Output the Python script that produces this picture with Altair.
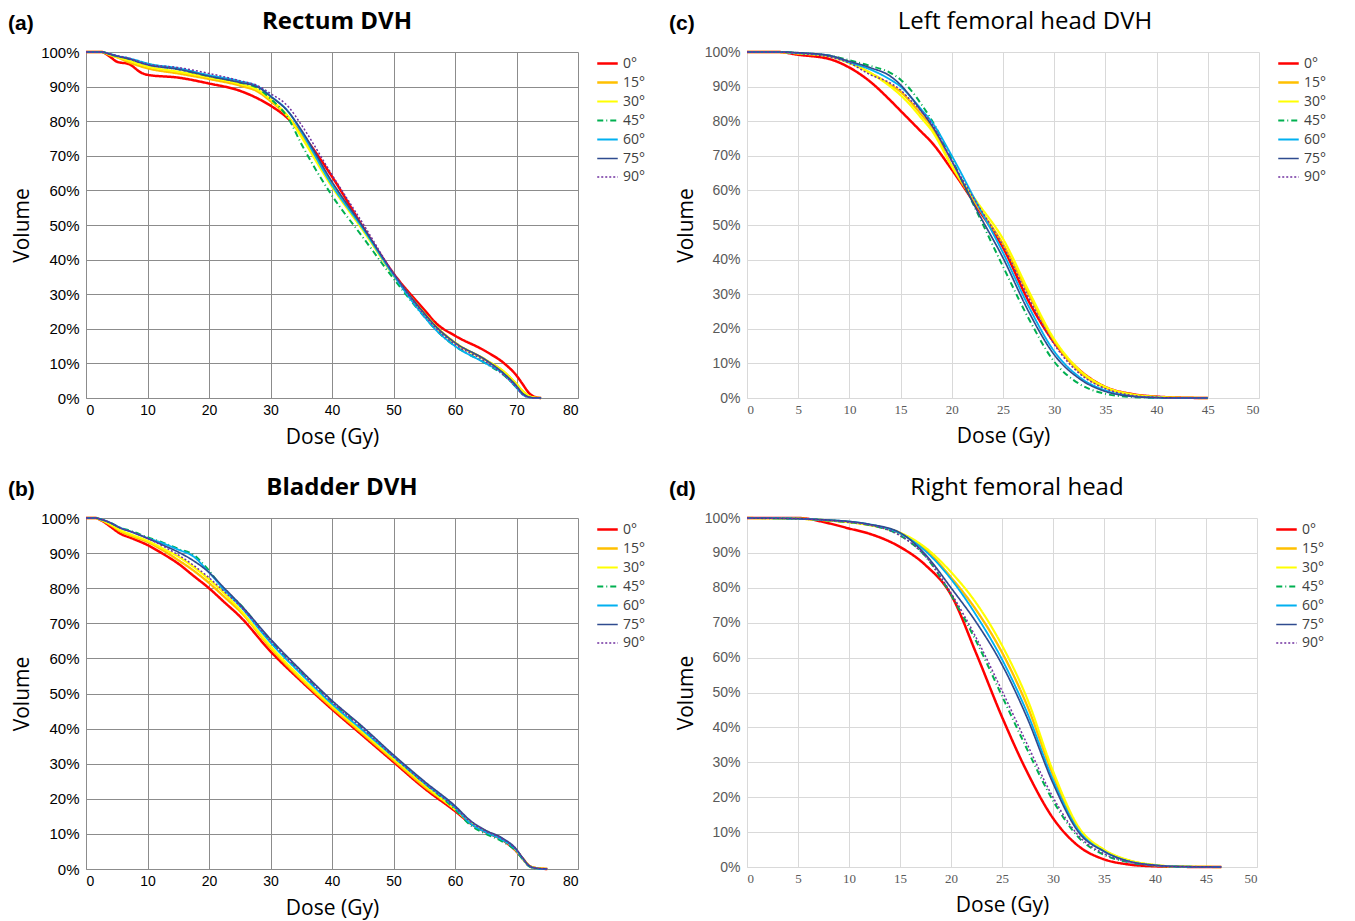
import altair as alt
import pandas as pd

ANGLES = ["0°", "15°", "30°", "45°", "60°", "75°", "90°"]
COLORS = ["#FF0000", "#FFC000", "#FFFF00", "#00B050", "#00B0F0", "#2F4B8F", "#7030A0"]
DASHES = [[1, 0], [1, 0], [1, 0], [6, 3, 1, 3], [1, 0], [1, 0], [2, 2]]
WIDTHS = [2.5, 1.5, 1.5, 1.3, 1.5, 1.8, 1.2]

# ---- (a) Rectum DVH ----
DOSE_A = [0, 2.5, 4, 5, 7, 9, 10, 15, 20, 25, 28, 30, 33, 35, 40, 45, 50, 55, 57, 60, 65, 68, 70, 71, 72, 73, 74]
A_0 = [100, 100, 98.5, 97.2, 96.5, 94, 93.4, 92.6, 90.9, 88.8, 86.5, 84.5, 80.5, 76.5, 64, 49.5, 36, 25.5, 21.5, 18, 13.5, 10, 6.5, 4, 1.5, 0.3, 0]
A_15 = [100, 100, 99, 98.5, 97, 95.8, 95.3, 93.8, 92.2, 90.3, 88.5, 85.8, 81, 76, 62, 49, 35.5, 24.5, 20.5, 16, 11, 7.5, 4, 2, 0.6, 0.1, 0]
A_30 = [100, 100, 99.2, 98.6, 97.5, 96.3, 95.8, 94.3, 92.7, 90.8, 89, 86.3, 81, 75.5, 61, 48.5, 35.5, 24.5, 20.5, 16, 11, 7.5, 4, 2, 0.6, 0.1, 0]
A_45 = [100, 100, 99.3, 98.8, 98, 97, 96.5, 95, 93, 91.2, 89.5, 86.5, 80.5, 73.5, 58.5, 46.5, 34.5, 23.5, 19.5, 15, 10, 6.5, 3, 1.2, 0.3, 0, 0]
A_60 = [100, 100, 99.4, 98.9, 98.2, 97.2, 96.7, 95.3, 93.3, 91.6, 90, 87.3, 82.5, 77, 61.5, 49, 35.5, 23.5, 19.5, 15, 10, 6.8, 3, 1, 0.2, 0, 0]
A_75 = [100, 100, 99.3, 98.8, 98, 96.8, 96.3, 95, 93, 91.2, 89.8, 87.2, 82.5, 77.5, 62.5, 49.5, 36, 24.5, 20.5, 16, 11, 7, 3.5, 1.3, 0.3, 0, 0]
A_90 = [100, 100, 99.4, 99, 98.2, 97, 96.5, 95.5, 93.8, 91.7, 90.2, 88, 84, 79, 64.5, 50.5, 36, 24, 20, 15.5, 10.5, 6.5, 3, 1, 0.2, 0, 0]

# ---- (b) Bladder DVH ----
DOSE_B = [0, 1.5, 2.5, 4, 5.5, 7.5, 10, 12.5, 15, 17.5, 20, 22.5, 25, 30, 35, 40, 45, 50, 55, 60, 62.5, 65, 67.5, 70, 71, 72, 73, 74, 75]
B_0 = [100, 100, 99.3, 97.5, 95.6, 94.2, 92.3, 89.8, 87, 83.5, 80, 76, 72, 62, 53.5, 45.5, 38, 30.5, 23, 16.5, 13, 10.5, 8.5, 5, 3, 1, 0.3, 0.1, 0]
B_15 = [100, 100, 99.4, 98, 96.3, 94.8, 93.2, 90.8, 88, 85, 81.5, 77.5, 73.5, 63, 54, 46, 38.5, 31, 23.5, 17, 13.3, 10.8, 8.7, 5.2, 3, 1, 0.3, 0.1, 0]
B_30 = [100, 100, 99.5, 98.2, 96.6, 95.2, 93.5, 91.3, 89, 86, 82.5, 78.5, 74, 63.5, 54.5, 46.5, 39, 31.5, 24, 17, 13.3, 10.8, 8.7, 5.2, 3, 1, 0.3, 0.1, 0]
B_45 = [100, 100, 99.6, 98.6, 97.3, 96.2, 94.5, 93, 91.2, 89.5, 85, 79.5, 75.5, 65, 56, 47.5, 40, 32, 24.5, 17, 12.5, 10, 8, 5, 2.8, 0.8, 0.2, 0, 0]
B_60 = [100, 100, 99.6, 98.6, 97.3, 96, 94.3, 92.8, 91, 89, 84.5, 79.5, 75, 64.5, 55.5, 47, 39.5, 32, 24.5, 17.5, 13, 10.5, 8.5, 5.3, 3, 0.9, 0.2, 0, 0]
B_75 = [100, 100, 99.6, 98.6, 97.2, 96, 94.2, 92.3, 90.3, 87.8, 84.5, 80, 75.5, 65.5, 56.5, 48, 40.5, 32.5, 25, 18, 13.8, 11, 9, 5.6, 3.2, 1, 0.3, 0.1, 0]
B_90 = [100, 100, 99.6, 98.6, 97.2, 96, 94.2, 92, 89.5, 86.5, 83, 79, 75, 65, 56, 47.5, 40, 32, 24.5, 17.5, 13.5, 10.8, 8.8, 5.4, 3.1, 1, 0.3, 0.1, 0]

# ---- (c) Left femoral head DVH ----
DOSE_C = [0, 3, 5, 8, 10, 12, 14, 15, 16, 17, 18, 20, 22.5, 25, 27.5, 30, 32.5, 35, 37.5, 40, 42.5, 45]
C_0 = [100, 100, 99.2, 98, 95.5, 91.5, 86, 83, 80, 77, 74, 66, 55, 43.5, 28, 16, 8, 3.2, 1.2, 0.4, 0.1, 0]
C_15 = [100, 100, 99.6, 98.8, 97, 94, 90.5, 88.5, 85.5, 82, 78.5, 67, 55.5, 44.5, 30, 16.5, 7.5, 3, 1, 0.3, 0.05, 0]
C_30 = [100, 100, 99.6, 98.8, 96.8, 94, 90, 87.5, 84.5, 81, 77.5, 67, 56.5, 46, 31, 17, 8, 3.2, 1.1, 0.3, 0.05, 0]
C_45 = [100, 100, 99.7, 99, 97.6, 96, 94, 92, 89, 85, 80.5, 69, 53.5, 38, 23, 10.5, 4, 1.2, 0.3, 0.05, 0, 0]
C_60 = [100, 100, 99.7, 99, 97, 95, 92, 90, 87, 83.5, 80, 70, 56, 42, 26.5, 13.5, 6, 2.2, 0.6, 0.1, 0, 0]
C_75 = [100, 100, 99.8, 99, 97.3, 95.5, 93, 90.5, 87, 83, 79, 68.5, 54, 40.5, 25, 12.5, 5.5, 1.9, 0.5, 0.1, 0, 0]
C_90 = [100, 100, 99.6, 98.6, 96.8, 93.5, 91, 89, 86, 83, 79.5, 68.5, 56, 44, 29, 15.5, 7, 2.7, 0.8, 0.2, 0, 0]

# ---- (d) Right femoral head ----
DOSE_D = [0, 5, 8, 10, 12, 15, 17.5, 20, 22.5, 25, 27.5, 30, 32.5, 35, 37.5, 40, 42.5, 46.5]
D_0 = [100, 100, 98.5, 97, 95.5, 91.7, 86.5, 78, 61, 43, 27, 14, 6, 2.2, 0.7, 0.2, 0.05, 0]
D_15 = [100, 99.8, 99.3, 98.8, 98, 95.6, 91, 83, 73.5, 61.5, 46, 26.5, 11, 4.8, 1.8, 0.5, 0.1, 0]
D_30 = [100, 99.8, 99.3, 98.8, 98, 95.8, 91.5, 84.5, 75.5, 63.5, 48, 27.5, 11.5, 5, 1.9, 0.6, 0.1, 0]
D_45 = [100, 99.8, 99.3, 98.8, 98, 95, 89, 78, 64.5, 49, 33.5, 19, 8.5, 3.5, 1.3, 0.4, 0.1, 0]
D_60 = [100, 99.8, 99.4, 99, 98.2, 95.6, 90.5, 82.5, 72, 59.5, 44, 25, 10.5, 4.5, 1.6, 0.5, 0.1, 0]
D_75 = [100, 99.8, 99.4, 99, 98.2, 95.8, 89.5, 80, 70, 58, 42.5, 24, 10, 4.5, 1.6, 0.5, 0.1, 0]
D_90 = [100, 99.8, 99.3, 98.8, 98, 95, 89, 78.5, 65.5, 50.5, 35, 20, 9, 3.8, 1.4, 0.4, 0.1, 0]

TITLE_FONT = "Open Sans"


def long_df(dose, series):
    rows = []
    for i, ang in enumerate(ANGLES):
        for d, v in zip(dose, series[i]):
            rows.append({"dose": d, "vol": v, "angle": ang, "ord": i})
    return pd.DataFrame(rows)


def panel(dose, series, title, bold, tag, xmax, xstep, dark, w, h, tdx):
    df = long_df(dose, series)
    grid = "#8c8c8c" if dark else "#d9d9d9"
    lab_col = "#000000" if dark else "#595959"
    xfont = "Liberation Sans" if dark else "Liberation Serif"
    legend = alt.Legend(
        title=None, symbolType="stroke", symbolSize=420, labelFontSize=14,
        labelFont="Open Sans", labelColor="#404040", rowPadding=0, offset=18,
        padding=0, orient="right",
    )
    lines = alt.Chart(df).mark_line(interpolate="monotone").encode(
        x=alt.X("dose:Q", scale=alt.Scale(domain=[0, xmax], nice=False),
                axis=alt.Axis(values=list(range(0, xmax + 1, xstep)), title="Dose (Gy)",
                              grid=True, gridColor=grid, domainColor=grid, ticks=False,
                              labelFont=xfont, labelFontSize=14 if dark else 13,
                              labelColor=lab_col, labelPadding=5,
                              titleFont=TITLE_FONT, titleFontSize=21, titleFontWeight="normal",
                              titleColor="#000000", titlePadding=9)),
        y=alt.Y("vol:Q", scale=alt.Scale(domain=[0, 100], nice=False),
                axis=alt.Axis(values=list(range(0, 101, 10)), labelExpr="datum.value + '%'",
                              title="Volume", grid=True, gridColor=grid, domainColor=grid,
                              ticks=False, labelFont="Liberation Sans",
                              labelFontSize=15 if dark else 14, labelColor=lab_col,
                              labelPadding=7, titleFont=TITLE_FONT, titleFontSize=21,
                              titleFontWeight="normal", titleColor="#000000", titlePadding=8)),
        color=alt.Color("angle:N", scale=alt.Scale(domain=ANGLES, range=COLORS), legend=legend),
        strokeDash=alt.StrokeDash("angle:N", scale=alt.Scale(domain=ANGLES, range=DASHES), legend=legend),
        strokeWidth=alt.StrokeWidth("angle:N", scale=alt.Scale(domain=ANGLES, range=WIDTHS), legend=legend),
        order=alt.Order("ord:Q"),
    )
    label = alt.Chart(pd.DataFrame({"t": [tag]})).mark_text(
        align="left", baseline="alphabetic", fontSize=21, fontWeight="bold",
        font="Liberation Sans", color="#000000",
    ).encode(x=alt.value(-78), y=alt.value(-22), text="t:N")
    return alt.layer(lines, label).properties(
        width=w, height=h,
        title=alt.TitleParams(title, fontSize=24, font=TITLE_FONT,
                              fontWeight="bold" if bold else "normal", color="#000000",
                              anchor="middle", frame="group", offset=-21, dx=tdx),
    )


pa = panel(DOSE_A, [A_0, A_15, A_30, A_45, A_60, A_75, A_90], "Rectum DVH", True, "(a)",
           80, 10, True, 492, 346, 5)
pc = panel(DOSE_C, [C_0, C_15, C_30, C_45, C_60, C_75, C_90], "Left femoral head DVH", False, "(c)",
           50, 5, False, 512, 346, 22)
pb = panel(DOSE_B, [B_0, B_15, B_30, B_45, B_60, B_75, B_90], "Bladder DVH", True, "(b)",
           80, 10, True, 492, 351, 10)
pd_ = panel(DOSE_D, [D_0, D_15, D_30, D_45, D_60, D_75, D_90], "Right femoral head", False, "(d)",
            50, 5, False, 510, 349, 15)

chart = alt.concat(pa, pc, pb, pd_, columns=2, spacing={"row": 29, "column": 23}).resolve_legend(
    color="independent", strokeDash="independent", strokeWidth="independent"
).resolve_scale(
    color="independent", strokeDash="independent", strokeWidth="independent", x="independent", y="independent"
).configure_view(stroke=None).properties(padding={"left": 0, "top": 2, "right": 5, "bottom": 3})

chart.save("out.html", embed_options={"renderer": "svg", "actions": False})
